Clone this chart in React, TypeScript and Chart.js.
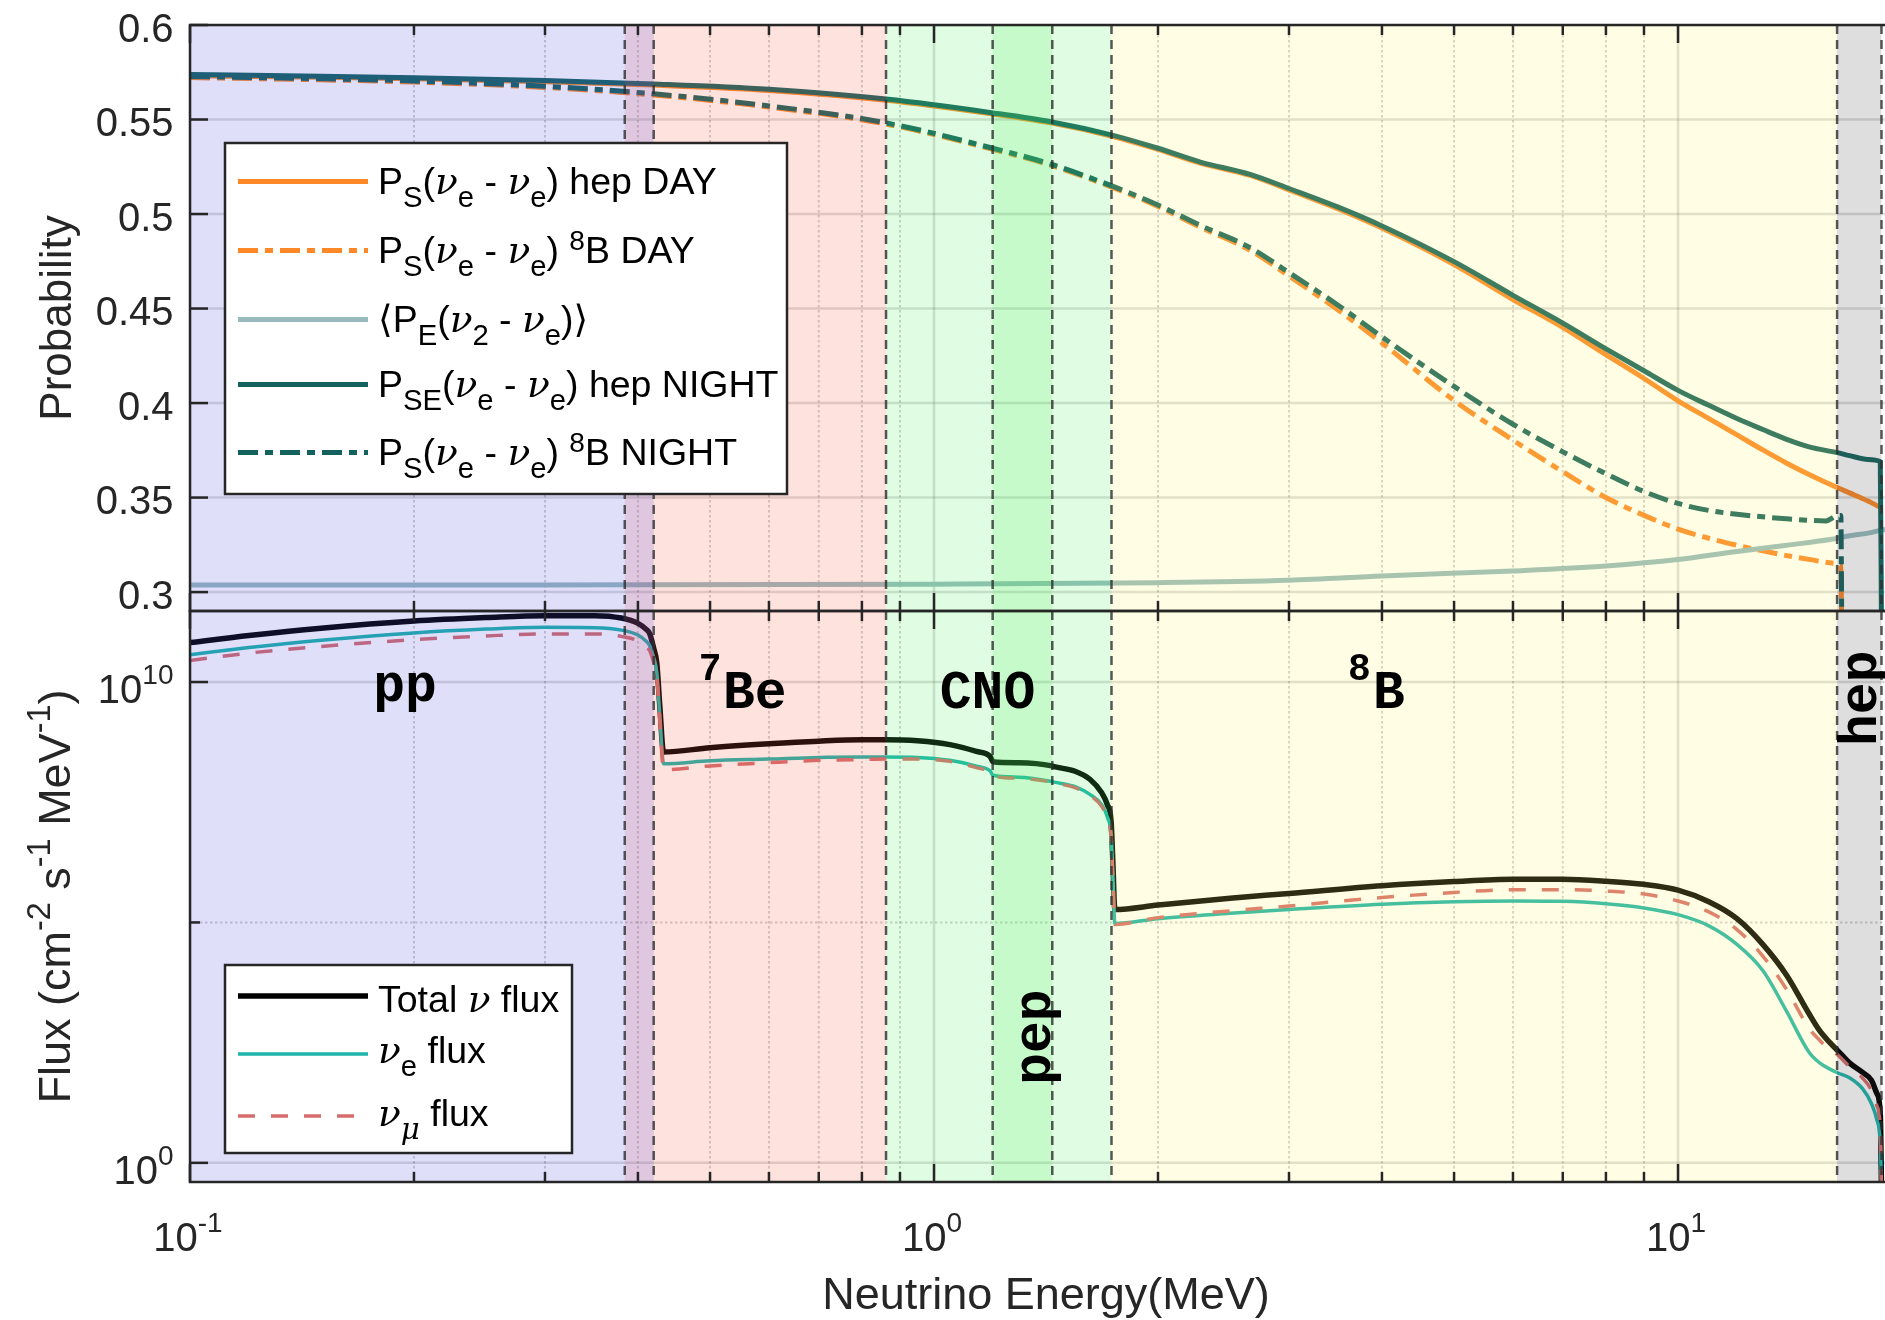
import React, { useEffect, useRef } from 'react';
import { Chart, registerables } from 'chart.js';

Chart.register(...registerables);

// ---------------------------------------------------------------------------
// Axes: shared energy axis, survival-probability panel, flux panel
// ---------------------------------------------------------------------------
const energyRange = [0.1, 20];
const energyMajorTicks = [0.1, 1, 10];
const energyMinorTicks = [0.2, 0.3, 0.4, 0.5, 0.6, 0.7, 0.8, 0.9, 2, 3, 4, 5, 6, 7, 8, 9, 20];
const energyTickLabels = [['10', '-1'], ['10', '0'], ['10', '1']];

const probRange = [0.29, 0.6];
const probTicks = [0.3, 0.35, 0.4, 0.45, 0.5, 0.55, 0.6];
const probTickLabels = ['0.3', '0.35', '0.4', '0.45', '0.5', '0.55', '0.6'];

const fluxRange = [0.4, 3e11];
const fluxMajorTicks = [1, 1e10];
const fluxMinorTicks = [1e5];
const fluxTickLabels = [['10', '0'], ['10', '10']];

// Spectral source regions (MeV)
const boundaryEnergies = [0.384, 0.42, 0.862, 1.199, 1.442, 1.732, 16.36, 18.77];
const bandNames = ['7Be', 'pp', 'CNO', 'pep', '8B', 'hep'];
const bandFrom = [0.384, 0.1, 0.862, 1.199, 1.732, 16.36];
const bandTo = [0.862, 0.42, 1.732, 1.442, 16.36, 18.77];

// ---------------------------------------------------------------------------
// Survival probabilities: [energy (MeV), probability]
// ---------------------------------------------------------------------------
const hepDay = [
  [0.1, 0.5732], [0.15, 0.5723], [0.2, 0.5715], [0.3, 0.57], [0.42, 0.5682], [0.6, 0.5654],
  [0.862, 0.5602], [1.2, 0.5529], [1.44, 0.5481], [1.73, 0.5413], [2.0, 0.5342], [2.28, 0.5269],
  [2.66, 0.5204], [3.0, 0.5128], [3.5, 0.5026], [4.0, 0.4926], [5.0, 0.4733], [6.0, 0.4548],
  [7.0, 0.44], [8.0, 0.4256], [9.0, 0.413], [10.0, 0.4012], [11.0, 0.3918], [12.0, 0.3832],
  [13.0, 0.3752], [14.0, 0.3682], [15.0, 0.3622], [16.36, 0.3553], [17.0, 0.3525], [18.0, 0.3482],
  [18.77, 0.3445],
];
const b8Day = [
  [0.1, 0.5722], [0.15, 0.571], [0.2, 0.5698], [0.3, 0.567], [0.42, 0.563], [0.6, 0.5566],
  [0.862, 0.5476], [1.2, 0.5342], [1.44, 0.5256], [1.73, 0.5144], [2.0, 0.504], [2.28, 0.493],
  [2.66, 0.4808], [3.0, 0.4672], [3.5, 0.449], [4.0, 0.4318], [5.0, 0.4014], [6.0, 0.3804],
  [7.0, 0.3637], [8.0, 0.35], [9.0, 0.3406], [10.0, 0.3333], [11.0, 0.3285], [12.0, 0.3248],
  [13.0, 0.3218], [14.0, 0.3193], [15.0, 0.3173], [16.36, 0.3152], [16.55, 0.3148], [16.6, 0.28],
];
const earthRegen = [
  [0.1, 0.3037], [0.3, 0.3038], [1.0, 0.3042], [2.0, 0.305], [3.0, 0.3063], [4.0, 0.3085],
  [6.0, 0.3112], [8.0, 0.3138], [10.0, 0.3172], [12.0, 0.3215], [14.0, 0.3248], [16.0, 0.3278],
  [17.0, 0.3298], [18.0, 0.3312], [18.77, 0.3328], [20.0, 0.3345],
];
const hepNight = [
  [0.1, 0.5738], [0.15, 0.5729], [0.2, 0.5721], [0.3, 0.5706], [0.42, 0.5688], [0.6, 0.566],
  [0.862, 0.5608], [1.2, 0.5535], [1.44, 0.5487], [1.73, 0.5419], [2.0, 0.5348], [2.28, 0.5275],
  [2.66, 0.521], [3.0, 0.5135], [3.5, 0.5035], [4.0, 0.4937], [5.0, 0.4748], [6.0, 0.457],
  [7.0, 0.4423], [8.0, 0.4287], [9.0, 0.4171], [10.0, 0.4067], [11.0, 0.3988], [12.0, 0.3918],
  [13.0, 0.386], [14.0, 0.3808], [15.0, 0.3768], [16.36, 0.3738], [17.0, 0.3722], [18.0, 0.3702],
  [18.7, 0.369], [18.77, 0.28],
];
const b8Night = [
  [0.1, 0.5728], [0.15, 0.5716], [0.2, 0.5704], [0.3, 0.5676], [0.42, 0.5636], [0.6, 0.5572],
  [0.862, 0.5482], [1.2, 0.5348], [1.44, 0.5262], [1.73, 0.515], [2.0, 0.5048], [2.28, 0.494],
  [2.66, 0.4822], [3.0, 0.469], [3.5, 0.4515], [4.0, 0.435], [5.0, 0.4088], [6.0, 0.3888],
  [7.0, 0.3742], [8.0, 0.3626], [9.0, 0.3532], [10.0, 0.3469], [11.0, 0.3432], [12.0, 0.3412],
  [13.0, 0.3398], [14.0, 0.3388], [15.0, 0.338], [15.8, 0.3376], [16.3, 0.3402], [16.55, 0.3405],
  [16.6, 0.28],
];

// ---------------------------------------------------------------------------
// Solar neutrino flux (cm^-2 s^-1 MeV^-1)
// ---------------------------------------------------------------------------
const fluxEnergy = [
  0.1, 0.12, 0.15, 0.2, 0.25, 0.3, 0.35, 0.38, 0.4, 0.41,
  0.415, 0.42, 0.424, 0.428, 0.433, 0.5, 0.6, 0.7, 0.8, 0.862,
  0.95, 1.05, 1.14, 1.19, 1.2, 1.3, 1.44, 1.45, 1.55, 1.62,
  1.68, 1.71, 1.73, 1.74, 1.75, 2.0, 2.5, 3.0, 4.0, 5.0,
  6.0, 7.0, 8.0, 9.0, 10.0, 11.0, 12.0, 13.0, 14.0, 15.0,
  15.5, 16.0, 16.4, 17.0, 17.7, 18.2, 18.5, 18.7, 18.77,
];
const totalFlux = [
  6.6e10, 9.3e10, 1.32e11, 1.86e11, 2.19e11, 2.4e11, 2.4e11, 2.14e11, 1.66e11, 1.26e11,
  1.0e11, 5.0e10, 2.5e10, 3.2e9, 3.5e8, 4.3e8, 5.2e8, 5.9e8, 6.3e8, 6.3e8,
  6.0e8, 5.0e8, 3.6e8, 2.8e8, 2.2e8, 2.1e8, 1.8e8, 1.74e8, 1.38e8, 9.5e7,
  5.0e7, 2.8e7, 1.26e7, 1.6e6, 1.86e5, 2.3e5, 3.2e5, 4.0e5, 5.8e5, 7.1e5,
  7.9e5, 7.9e5, 7.2e5, 6.2e5, 4.7e5, 2.7e5, 1.2e5, 3.5e4, 7.9e3, 1.26e3,
  560, 316, 214, 120, 76, 52, 28, 10.7, 0.3,
];
const nueFlux = [
  3.7e10, 5.2e10, 7.4e10, 1.05e11, 1.26e11, 1.38e11, 1.35e11, 1.2e11, 9.5e10, 7.1e10,
  5.6e10, 3.2e10, 1.6e10, 2.0e9, 2.0e8, 2.3e8, 2.5e8, 2.7e8, 2.75e8, 2.75e8,
  2.7e8, 2.35e8, 1.78e8, 1.41e8, 1.15e8, 1.05e8, 8.5e7, 8.3e7, 6.6e7, 4.6e7,
  2.8e7, 1.55e7, 6.3e6, 7.9e5, 9.5e4, 1.2e5, 1.55e5, 1.86e5, 2.4e5, 2.7e5,
  2.8e5, 2.75e5, 2.45e5, 2.0e5, 1.45e5, 8.5e4, 3.5e4, 1.0e4, 1.4e3, 200,
  120, 89, 74, 59, 35, 17, 7.9, 2.5, 0.3,
];
const numuFlux = [
  2.8e10, 4.0e10, 5.5e10, 7.6e10, 9.1e10, 1.0e11, 1.0e11, 8.9e10, 7.2e10, 5.5e10,
  4.4e10, 2.5e10, 1.26e10, 1.6e9, 1.5e8, 1.8e8, 2.1e8, 2.35e8, 2.45e8, 2.5e8,
  2.5e8, 2.24e8, 1.66e8, 1.32e8, 1.1e8, 1.0e8, 8.3e7, 8.1e7, 6.3e7, 4.4e7,
  2.6e7, 1.4e7, 5.6e6, 7.1e5, 9.1e4, 1.26e5, 1.74e5, 2.2e5, 3.3e5, 4.2e5,
  4.8e5, 4.8e5, 4.5e5, 3.9e5, 2.8e5, 1.66e5, 7.1e4, 2.0e4, 4.0e3, 630,
  355, 224, 174, 100, 58, 32, 15.5, 5, 0.3,
];

// ---------------------------------------------------------------------------
// Styling
// ---------------------------------------------------------------------------
const SANS = '"Liberation Sans", Arial, Helvetica, sans-serif';
const SERIF = '"DejaVu Serif", "Liberation Serif", serif';
const MONO = '"Liberation Mono", "Courier New", monospace';
const INK = 'rgb(38,38,38)';

const ORANGE = 'rgb(252,136,40)';
const TEAL = 'rgb(20,98,94)';
const LIGHT = 'rgb(150,186,190)';
const BLACK = 'rgb(0,0,0)';
const NUE = 'rgb(30,180,170)';
const NUMU = 'rgb(214,108,108)';
const DASHDOT = [20, 7, 8, 7];
const DASHED = [17, 16];

const BAND_ALPHA = 0.18;
const BAND_COLORS: Record<string, string> = {
  '7Be': 'rgb(244,93,71)',
  pp: 'rgb(77,77,227)',
  CNO: 'rgb(83,238,94)',
  pep: 'rgb(83,238,94)',
  '8B': 'rgb(255,244,105)',
  hep: 'rgb(72,72,72)',
};

// canvas geometry
const CANVAS_W = 1910;
const PLOT_LEFT = 190;
const PLOT_RIGHT = 1902;
const TOP_H = 640;
const TOP_AREA = [25, 611];
const BOTTOM_OFFSET = 600;
const BOTTOM_H = 720;
const BOTTOM_AREA = [11, 582];

// ---------------------------------------------------------------------------
// Rich text (sub/superscripts, Greek letters)
// ---------------------------------------------------------------------------
type Seg = { t: string; s?: 'sub' | 'sup'; f?: 'it' | 'rm' };
type Rich = { size: number; subScale: number; supScale: number; subDrop: number; supRise: number };

const TICK_RICH: Rich = { size: 40, subScale: 0.7, supScale: 0.7, subDrop: 0.3, supRise: 0.48 };
const TITLE_RICH: Rich = { size: 45, subScale: 0.72, supScale: 0.72, subDrop: 0.3, supRise: 0.45 };
const LEGEND_RICH: Rich = { size: 37.5, subScale: 0.78, supScale: 0.75, subDrop: 0.35, supRise: 0.33 };

function segFont(seg: Seg, o: Rich) {
  const sz = seg.s === 'sub' ? o.size * o.subScale : seg.s === 'sup' ? o.size * o.supScale : o.size;
  if (seg.f === 'it') return `italic ${sz}px ${SERIF}`;
  if (seg.f === 'rm') return `${sz}px ${SERIF}`;
  return `${sz}px ${SANS}`;
}

function richWidth(ctx: CanvasRenderingContext2D, segs: Seg[], o: Rich) {
  let w = 0;
  for (const s of segs) {
    ctx.font = segFont(s, o);
    w += ctx.measureText(s.t).width;
  }
  return w;
}

function drawRich(ctx: CanvasRenderingContext2D, x: number, y: number, segs: Seg[], o: Rich, align: 'left' | 'center' | 'right') {
  const w = richWidth(ctx, segs, o);
  let cx = align === 'left' ? x : align === 'right' ? x - w : x - w / 2;
  ctx.textAlign = 'left';
  ctx.textBaseline = 'alphabetic';
  for (const s of segs) {
    ctx.font = segFont(s, o);
    const dy = s.s === 'sub' ? o.subDrop * o.size : s.s === 'sup' ? -o.supRise * o.size : 0;
    ctx.fillText(s.t, cx, y + dy);
    cx += ctx.measureText(s.t).width;
  }
}

const nu: Seg = { t: 'ν', f: 'it' };
const probLegendRows: Seg[][] = [
  [{ t: 'P' }, { t: 'S', s: 'sub' }, { t: '(' }, nu, { t: 'e', s: 'sub' }, { t: ' - ' }, nu, { t: 'e', s: 'sub' }, { t: ') hep DAY' }],
  [{ t: 'P' }, { t: 'S', s: 'sub' }, { t: '(' }, nu, { t: 'e', s: 'sub' }, { t: ' - ' }, nu, { t: 'e', s: 'sub' }, { t: ') ' }, { t: '8', s: 'sup' }, { t: 'B DAY' }],
  [{ t: '⟨', f: 'rm' }, { t: 'P' }, { t: 'E', s: 'sub' }, { t: '(' }, nu, { t: '2', s: 'sub' }, { t: ' - ' }, nu, { t: 'e', s: 'sub' }, { t: ')' }, { t: '⟩', f: 'rm' }],
  [{ t: 'P' }, { t: 'SE', s: 'sub' }, { t: '(' }, nu, { t: 'e', s: 'sub' }, { t: ' - ' }, nu, { t: 'e', s: 'sub' }, { t: ') hep NIGHT' }],
  [{ t: 'P' }, { t: 'S', s: 'sub' }, { t: '(' }, nu, { t: 'e', s: 'sub' }, { t: ' - ' }, nu, { t: 'e', s: 'sub' }, { t: ') ' }, { t: '8', s: 'sup' }, { t: 'B NIGHT' }],
];
const fluxLegendRows: Seg[][] = [
  [{ t: 'Total ' }, nu, { t: ' flux' }],
  [nu, { t: 'e', s: 'sub' }, { t: ' flux' }],
  [nu, { t: 'μ', s: 'sub', f: 'it' }, { t: ' flux' }],
];

type Panel = 'prob' | 'flux';

const LEGENDS = {
  prob: {
    box: [35, 118, 562, 351],
    sample: [48, 178],
    textX: 188,
    lineY: [156.5, 225.5, 294.5, 359.5, 427.5],
    baseY: [168.5, 237.5, 306.5, 371.5, 439.5],
    rows: probLegendRows,
    styles: [
      { color: ORANGE, width: 5, dash: [] as number[] },
      { color: ORANGE, width: 5, dash: DASHDOT },
      { color: LIGHT, width: 5, dash: [] as number[] },
      { color: TEAL, width: 5, dash: [] as number[] },
      { color: TEAL, width: 5, dash: DASHDOT },
    ],
  },
  flux: {
    box: [35, 354, 347, 188],
    sample: [48, 178],
    textX: 188,
    lineY: [385, 443, 505],
    baseY: [401, 452, 515],
    rows: fluxLegendRows,
    styles: [
      { color: BLACK, width: 5.5, dash: [] as number[] },
      { color: NUE, width: 3.5, dash: [] as number[] },
      { color: NUMU, width: 3.5, dash: DASHED },
    ],
  },
};

// source labels placed in (energy, flux) coordinates
const regionLabels = [
  { t: 'pp', e: 0.1945, v: 4.1e9, size: 53, align: 'center' as const },
  { t: '7', e: 0.483, v: 1.1e10, size: 38, align: 'left' as const },
  { t: 'Be', e: 0.5204, v: 2.9e9, size: 53, align: 'left' as const },
  { t: 'CNO', e: 1.18, v: 2.9e9, size: 53, align: 'center' as const },
  { t: '8', e: 3.6, v: 1.1e10, size: 38, align: 'left' as const },
  { t: 'B', e: 3.89, v: 2.9e9, size: 53, align: 'left' as const },
];
const rotatedLabels = [
  { t: 'pep', e: 1.432, v: 414, size: 53 },
  { t: 'hep', e: 18.46, v: 4.6e9, size: 53 },
];

// ---------------------------------------------------------------------------
// Drawing helpers
// ---------------------------------------------------------------------------
function strokeLine(ctx: CanvasRenderingContext2D, x0: number, y0: number, x1: number, y1: number) {
  ctx.beginPath();
  ctx.moveTo(x0, y0);
  ctx.lineTo(x1, y1);
  ctx.stroke();
}

function clipToArea(chart: any) {
  const { ctx, chartArea: a } = chart;
  ctx.beginPath();
  ctx.rect(a.left, a.top, a.right - a.left, a.bottom - a.top);
  ctx.clip();
}

function drawGrid(chart: any, panel: Panel) {
  const { ctx, chartArea: a } = chart;
  const xs = chart.scales.x;
  const ys = chart.scales.y;
  ctx.save();
  clipToArea(chart);
  ctx.strokeStyle = 'rgba(38,38,38,0.22)';
  ctx.lineWidth = 2;
  ctx.setLineDash([2.5, 2.5]);
  for (const e of energyMinorTicks) {
    const px = xs.getPixelForValue(e);
    strokeLine(ctx, px, a.top, px, a.bottom);
  }
  if (panel === 'flux') {
    for (const v of fluxMinorTicks) {
      const py = ys.getPixelForValue(v);
      strokeLine(ctx, a.left, py, a.right, py);
    }
  }
  ctx.setLineDash([]);
  ctx.strokeStyle = 'rgba(38,38,38,0.16)';
  ctx.lineWidth = 2.5;
  for (const e of energyMajorTicks) {
    const px = xs.getPixelForValue(e);
    strokeLine(ctx, px, a.top, px, a.bottom);
  }
  const majors = panel === 'prob' ? probTicks : fluxMajorTicks;
  for (const v of majors) {
    const py = ys.getPixelForValue(v);
    strokeLine(ctx, a.left, py, a.right, py);
  }
  ctx.restore();
}

function drawBands(chart: any) {
  const { ctx, chartArea: a } = chart;
  const xs = chart.scales.x;
  ctx.save();
  clipToArea(chart);
  ctx.globalAlpha = BAND_ALPHA;
  bandNames.forEach((name, i) => {
    const x0 = xs.getPixelForValue(bandFrom[i]);
    const x1 = xs.getPixelForValue(bandTo[i]);
    ctx.fillStyle = BAND_COLORS[name];
    ctx.fillRect(x0, a.top, x1 - x0, a.bottom - a.top);
  });
  ctx.restore();
}

function drawBoundaries(chart: any) {
  const { ctx, chartArea: a } = chart;
  const xs = chart.scales.x;
  ctx.save();
  clipToArea(chart);
  ctx.strokeStyle = 'rgba(45,45,45,0.8)';
  ctx.lineWidth = 2.5;
  ctx.setLineDash([9, 6]);
  for (const e of boundaryEnergies) {
    const px = xs.getPixelForValue(e);
    strokeLine(ctx, px, a.top, px, a.bottom);
  }
  ctx.restore();
}

function drawRegionLabels(chart: any) {
  const { ctx } = chart;
  const xs = chart.scales.x;
  const ys = chart.scales.y;
  ctx.save();
  ctx.fillStyle = 'rgb(0,0,0)';
  ctx.textBaseline = 'alphabetic';
  for (const l of regionLabels) {
    ctx.font = `bold ${l.size}px ${MONO}`;
    ctx.textAlign = l.align;
    ctx.fillText(l.t, xs.getPixelForValue(l.e), ys.getPixelForValue(l.v));
  }
  for (const l of rotatedLabels) {
    ctx.save();
    ctx.translate(xs.getPixelForValue(l.e), ys.getPixelForValue(l.v));
    ctx.rotate(-Math.PI / 2);
    ctx.font = `bold ${l.size}px ${MONO}`;
    ctx.textAlign = 'center';
    ctx.fillText(l.t, 0, 0);
    ctx.restore();
  }
  ctx.restore();
}

function drawLegend(chart: any, panel: Panel) {
  const { ctx, chartArea: a } = chart;
  const L = LEGENDS[panel];
  const [bx, by, bw, bh] = L.box;
  ctx.save();
  ctx.fillStyle = '#ffffff';
  ctx.fillRect(a.left + bx, a.top + by, bw, bh);
  ctx.strokeStyle = INK;
  ctx.lineWidth = 2.5;
  ctx.strokeRect(a.left + bx, a.top + by, bw, bh);
  L.rows.forEach((row, i) => {
    const st = L.styles[i];
    ctx.strokeStyle = st.color;
    ctx.lineWidth = st.width;
    ctx.lineCap = 'butt';
    ctx.setLineDash(st.dash);
    strokeLine(ctx, a.left + L.sample[0], a.top + L.lineY[i], a.left + L.sample[1], a.top + L.lineY[i]);
    ctx.setLineDash([]);
    ctx.fillStyle = 'rgb(0,0,0)';
    drawRich(ctx, a.left + L.textX, a.top + L.baseY[i], row, LEGEND_RICH, 'left');
  });
  ctx.restore();
}

function drawFrame(chart: any, panel: Panel) {
  const { ctx, chartArea: a } = chart;
  const xs = chart.scales.x;
  const ys = chart.scales.y;
  ctx.save();
  ctx.strokeStyle = INK;
  ctx.lineWidth = 2.5;
  ctx.setLineDash([]);
  ctx.strokeRect(a.left, a.top, a.right - a.left, a.bottom - a.top);
  const xTick = (e: number, len: number) => {
    const px = xs.getPixelForValue(e);
    strokeLine(ctx, px, a.top, px, a.top + len);
    strokeLine(ctx, px, a.bottom, px, a.bottom - len);
  };
  energyMajorTicks.forEach((e) => xTick(e, 18));
  energyMinorTicks.forEach((e) => xTick(e, 10));
  if (panel === 'prob') {
    for (const v of probTicks) {
      const py = ys.getPixelForValue(v);
      strokeLine(ctx, a.left, py, a.left + 18, py);
    }
  } else {
    for (const v of fluxMajorTicks) {
      const py = ys.getPixelForValue(v);
      strokeLine(ctx, a.left, py, a.left + 18, py);
    }
    for (const v of fluxMinorTicks) {
      const py = ys.getPixelForValue(v);
      strokeLine(ctx, a.left, py, a.left + 10, py);
    }
  }
  ctx.restore();
}

function drawAxisText(chart: any, panel: Panel) {
  const { ctx, chartArea: a } = chart;
  const xs = chart.scales.x;
  const ys = chart.scales.y;
  ctx.save();
  ctx.fillStyle = INK;
  if (panel === 'prob') {
    ctx.font = `40px ${SANS}`;
    ctx.textAlign = 'right';
    ctx.textBaseline = 'alphabetic';
    probTicks.forEach((v, i) => {
      ctx.fillText(probTickLabels[i], a.left - 16.5, ys.getPixelForValue(v) + 16.7);
    });
    ctx.save();
    ctx.translate(a.left - 119, (a.top + a.bottom) / 2);
    ctx.rotate(-Math.PI / 2);
    ctx.font = `44px ${SANS}`;
    ctx.textAlign = 'center';
    ctx.fillText('Probability', 0, 0);
    ctx.restore();
  } else {
    fluxMajorTicks.forEach((v, i) => {
      const [base, exp] = fluxTickLabels[i];
      drawRich(ctx, a.left - 16.5, ys.getPixelForValue(v) + 21, [{ t: base }, { t: exp, s: 'sup' }], TICK_RICH, 'right');
    });
    energyMajorTicks.forEach((e, i) => {
      const [base, exp] = energyTickLabels[i];
      drawRich(ctx, xs.getPixelForValue(e) - 2, a.bottom + 69, [{ t: base }, { t: exp, s: 'sup' }], TICK_RICH, 'center');
    });
    ctx.font = `45px ${SANS}`;
    ctx.textAlign = 'center';
    ctx.textBaseline = 'alphabetic';
    ctx.fillText('Neutrino Energy(MeV)', (a.left + a.right) / 2, a.bottom + 127);
    ctx.save();
    ctx.translate(a.left - 120, (a.top + a.bottom) / 2);
    ctx.rotate(-Math.PI / 2);
    drawRich(
      ctx, 0, 0,
      [{ t: 'Flux (cm' }, { t: '-2', s: 'sup' }, { t: ' s' }, { t: '-1', s: 'sup' }, { t: ' MeV' }, { t: '-1', s: 'sup' }, { t: ')' }],
      TITLE_RICH, 'center',
    );
    ctx.restore();
  }
  ctx.restore();
}

function decor(panel: Panel) {
  return {
    id: 'decor-' + panel,
    beforeDatasetsDraw(chart: any) {
      drawGrid(chart, panel);
    },
    afterDatasetsDraw(chart: any) {
      drawBands(chart);
      drawBoundaries(chart);
      if (panel === 'flux') drawRegionLabels(chart);
      drawLegend(chart, panel);
      drawFrame(chart, panel);
      drawAxisText(chart, panel);
    },
  };
}

// ---------------------------------------------------------------------------
// Chart configs
// ---------------------------------------------------------------------------
const toPoints = (arr: number[][]) => arr.map(([x, y]) => ({ x, y }));
const zipPoints = (xs: number[], ys: number[]) => xs.map((x, i) => ({ x, y: ys[i] }));

const lineDefaults = {
  pointRadius: 0,
  fill: false,
  cubicInterpolationMode: 'monotone' as const,
  borderCapStyle: 'butt' as const,
  borderJoinStyle: 'round' as const,
};

function baseOptions(height: number, area: number[], yScale: any) {
  return {
    animation: false as const,
    responsive: false,
    events: [] as any[],
    layout: {
      padding: { left: PLOT_LEFT, right: CANVAS_W - PLOT_RIGHT, top: area[0], bottom: height - area[1] },
    },
    scales: {
      x: { type: 'logarithmic' as const, min: energyRange[0], max: energyRange[1], display: false },
      y: { ...yScale, display: false },
    },
    plugins: { legend: { display: false }, tooltip: { enabled: false }, title: { display: false } },
  };
}

function probConfig(): any {
  return {
    type: 'line',
    data: {
      datasets: [
        { label: 'hep DAY', data: toPoints(hepDay), borderColor: ORANGE, borderWidth: 5, order: 5, ...lineDefaults },
        { label: '8B DAY', data: toPoints(b8Day), borderColor: ORANGE, borderWidth: 5, borderDash: DASHDOT, order: 4, ...lineDefaults },
        { label: 'P_E', data: toPoints(earthRegen), borderColor: LIGHT, borderWidth: 5, order: 3, ...lineDefaults },
        { label: 'hep NIGHT', data: toPoints(hepNight), borderColor: TEAL, borderWidth: 5, order: 2, ...lineDefaults },
        { label: '8B NIGHT', data: toPoints(b8Night), borderColor: TEAL, borderWidth: 5, borderDash: DASHDOT, order: 1, ...lineDefaults },
      ],
    },
    options: baseOptions(TOP_H, TOP_AREA, { type: 'linear', min: probRange[0], max: probRange[1] }),
    plugins: [decor('prob')],
  };
}

function fluxConfig(): any {
  return {
    type: 'line',
    data: {
      datasets: [
        { label: 'Total flux', data: zipPoints(fluxEnergy, totalFlux), borderColor: BLACK, borderWidth: 5.5, order: 3, ...lineDefaults },
        { label: 'nu_e flux', data: zipPoints(fluxEnergy, nueFlux), borderColor: NUE, borderWidth: 3.5, order: 2, ...lineDefaults },
        { label: 'nu_mu flux', data: zipPoints(fluxEnergy, numuFlux), borderColor: NUMU, borderWidth: 3.5, borderDash: DASHED, order: 1, ...lineDefaults },
      ],
    },
    options: baseOptions(BOTTOM_H, BOTTOM_AREA, { type: 'logarithmic', min: fluxRange[0], max: fluxRange[1] }),
    plugins: [decor('flux')],
  };
}

export default function App() {
  const topRef = useRef<HTMLCanvasElement>(null);
  const bottomRef = useRef<HTMLCanvasElement>(null);

  useEffect(() => {
    const top = new Chart(topRef.current as HTMLCanvasElement, probConfig());
    const bottom = new Chart(bottomRef.current as HTMLCanvasElement, fluxConfig());
    return () => {
      top.destroy();
      bottom.destroy();
    };
  }, []);

  return (
    <div style={{ position: 'fixed', left: 0, top: 0, width: 1885, height: 1320, overflow: 'hidden', background: '#ffffff' }}>
      <canvas ref={topRef} width={CANVAS_W} height={TOP_H} style={{ position: 'absolute', left: 0, top: 0 }} />
      <canvas ref={bottomRef} width={CANVAS_W} height={BOTTOM_H} style={{ position: 'absolute', left: 0, top: BOTTOM_OFFSET }} />
    </div>
  );
}
